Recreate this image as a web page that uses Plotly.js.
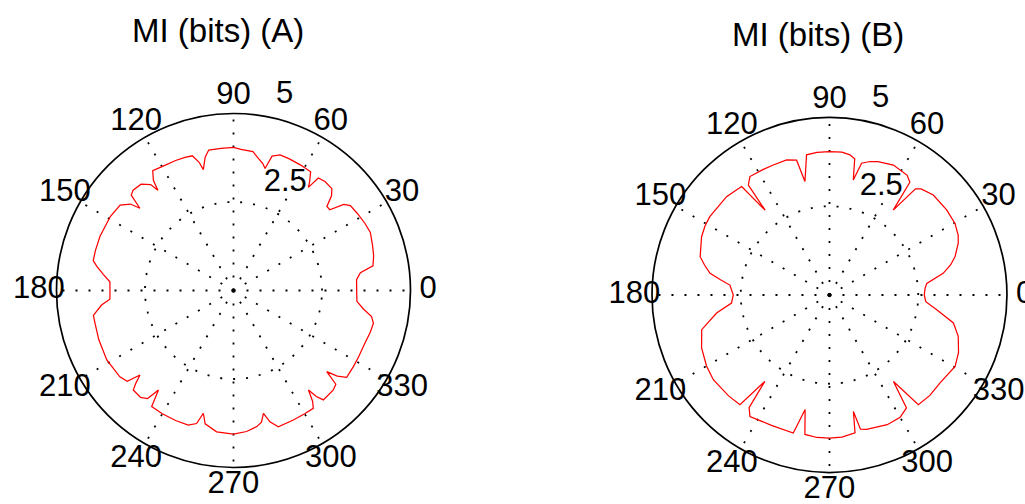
<!DOCTYPE html>
<html>
<head>
<meta charset="utf-8">
<script src="https://cdn.plot.ly/plotly-3.0.1.min.js"></script>
<style>
  html, body { margin: 0; padding: 0; background: #ffffff; }
  #chart { width: 1025px; height: 504px; }
</style>
</head>
<body>
<div id="chart"></div>
<script>
// Angle tick values and labels (degrees)
const angleTicks = [0, 30, 60, 90, 120, 150, 180, 210, 240, 270, 300, 330];
const angleLabels = ["0", "30", "60", "90", "120", "150", "180", "210", "240", "270", "300", "330"];
// Radial tick values and labels
const radialTicks = [2.5, 5];
const radialLabels = ["2.5", "5"];

// Panel titles
const titleA = "MI (bits) (A)";
const titleB = "MI (bits) (B)";

// Panel A: mutual information (bits) versus direction (deg)
const thetaA = [0, 5, 8, 10, 14, 18, 23, 27, 32, 36, 38, 40, 42, 44, 46, 50, 53, 54, 55, 57, 62, 67, 71, 74, 75.5, 77, 79, 82, 87, 90,
  95, 100, 102, 104, 105, 107, 110, 114, 120, 124, 126, 127, 128, 131, 135, 137, 138.7, 140, 143, 149, 158, 164, 168, 170, 173, 176, 180,
  184, 186.3, 190.1, 193.3, 200, 208.7, 217.2, 220.5, 222.1, 223.5, 224.8, 229, 231.5, 233, 234.8, 240, 246, 251.4, 254.5, 256.2, 258, 263.2, 270,
  275.3, 279.7, 282, 283.7, 285.5, 288.2, 294.8, 300, 304.1, 305.5, 307, 308, 309.4, 315.1, 317.5, 319, 320.5, 322.5, 327.6, 332, 338.1, 343, 346.8, 349.3, 352, 355, 360];
const rA = [3.48, 3.49, 3.62, 4.00, 4.08, 4.13, 4.20, 4.17, 4.12, 4.08, 3.95, 3.55, 3.55, 3.85, 4.00, 4.02, 3.98, 3.60, 3.75, 4.00, 4.02, 4.04, 4.05, 3.95, 3.56, 3.68, 3.78, 3.96, 3.99, 4.04,
  4.03, 4.03, 3.85, 3.52, 3.75, 3.98, 4.00, 4.02, 4.04, 4.08, 3.85, 3.55, 3.80, 3.98, 4.01, 3.95, 3.52, 3.80, 4.01, 4.06, 4.07, 4.06, 4.05, 3.92, 3.70, 3.50, 3.49,
  3.50, 3.75, 4.02, 4.02, 4.05, 4.08, 4.03, 3.95, 3.56, 3.80, 3.99, 4.00, 3.90, 3.52, 4.01, 4.02, 4.02, 4.01, 3.90, 3.57, 3.85, 4.02, 4.06,
  4.00, 3.90, 3.80, 3.57, 3.85, 4.05, 4.03, 4.02, 4.02, 3.85, 3.52, 3.80, 4.00, 3.98, 3.92, 3.49, 3.80, 4.03, 4.01, 4.00, 4.00, 4.04, 4.06, 3.97, 3.70, 3.50, 3.48];

// Panel B: mutual information (bits) versus direction (deg)
const thetaB = [0, 4, 6.8, 10.8, 14, 17, 21.9, 25, 29.7, 36, 43.9, 49.2, 51, 53.1, 54.5, 57, 63.8, 70, 73.1, 76.3, 78.3, 79.5, 81.7, 85, 90,
  95, 99.3, 102.2, 103.7, 107.6, 113.4, 118, 123.9, 126.4, 127.2, 129, 131, 136.3, 146.8, 151, 155.5, 163.5, 166.5, 169.7, 172, 174.3, 180,
  184.7, 189.1, 195.2, 202.5, 210, 216.1, 225, 230.8, 233.2, 234.5, 236.8, 246, 255.3, 258, 260, 265, 270,
  275, 280.5, 281.6, 283, 285.4, 294, 300, 304.3, 306.5, 309, 315, 321.5, 330.4, 336, 342.2, 347.3, 352.2, 356, 360];
const rB = [2.67, 2.70, 2.76, 3.26, 3.52, 3.70, 3.91, 4.00, 4.07, 4.08, 4.06, 3.95, 3.85, 2.99, 3.90, 4.02, 4.08, 4.00, 3.93, 3.82, 3.31, 3.90, 3.99, 4.04, 4.04,
  4.03, 4.00, 3.27, 3.91, 3.99, 3.99, 4.00, 4.02, 3.85, 3.00, 3.93, 3.95, 4.01, 4.03, 4.01, 3.96, 3.80, 3.62, 3.42, 3.10, 2.82, 2.71,
  2.77, 3.22, 3.73, 3.90, 4.00, 4.05, 4.02, 3.99, 3.04, 3.90, 4.09, 4.02, 4.02, 3.30, 3.99, 4.03, 4.03,
  4.02, 3.95, 3.35, 3.88, 3.93, 4.00, 3.98, 3.85, 3.03, 3.98, 4.00, 3.98, 4.07, 3.98, 3.81, 3.58, 3.05, 2.72, 2.67];

const FONT = "Liberation Sans, Arial, sans-serif";
const gridDash = "2px,11px";
const rMax = radialTicks[radialTicks.length - 1];
const rInc = radialTicks[0];
const labelAngleRadial = 82;      // radial labels sit along the 82 degree line (MATLAB polar style)
const labelRange = rMax * 1.101;  // label layer extends a bit beyond rmax, same scale

const domainA = { x: [0.0551, 0.4005], y: [0.0724, 0.7748] };
const domainB = { x: [0.6361, 0.9824], y: [0.0625, 0.7669] };

function scaledDomain(d, f) {
  const cx = (d.x[0] + d.x[1]) / 2, cy = (d.y[0] + d.y[1]) / 2;
  const hx = (d.x[1] - d.x[0]) / 2 * f, hy = (d.y[1] - d.y[0]) / 2 * f;
  const c = v => Math.max(0, Math.min(1, v));
  return { x: [c(cx - hx), c(cx + hx)], y: [c(cy - hy), c(cy + hy)] };
}

function mainPolar(domain) {
  return {
    domain: domain,
    bgcolor: "#ffffff",
    angularaxis: {
      rotation: 0, direction: "counterclockwise",
      tickmode: "array", tickvals: angleTicks, ticks: "", showticklabels: false,
      showline: true, linecolor: "#000000", linewidth: 1.7,
      showgrid: true, gridcolor: "#000000", gridwidth: 1.8, griddash: gridDash
    },
    radialaxis: {
      range: [0, rMax], tickmode: "array", tickvals: radialTicks, showticklabels: false,
      angle: labelAngleRadial, showline: false, ticks: "",
      showgrid: true, gridcolor: "#000000", gridwidth: 1.8, griddash: gridDash
    }
  };
}
function labelPolar(domain) {
  return {
    domain: scaledDomain(domain, labelRange / rMax),
    bgcolor: "rgba(0,0,0,0)",
    angularaxis: { rotation: 0, direction: "counterclockwise", showline: false, showgrid: false, showticklabels: false, ticks: "" },
    radialaxis: { range: [0, labelRange], showline: false, showgrid: false, showticklabels: false, ticks: "" }
  };
}

function panelTraces(theta, r, subplot, labelSubplot) {
  return [
    { type: "scatterpolar", mode: "lines", theta: theta, r: r, subplot: subplot,
      line: { color: "#ff0000", width: 1.25 }, hoverinfo: "skip" },
    // angle labels at 1.1 * rmax, centred (as MATLAB polar does)
    { type: "scatterpolar", mode: "text", subplot: labelSubplot, cliponaxis: false,
      theta: angleTicks, r: angleTicks.map(() => rMax * 1.1), text: angleLabels,
      textposition: "middle center", textfont: { family: FONT, size: 31, color: "#000000" }, hoverinfo: "skip" },
    // radial labels along 82 degrees, left / bottom aligned
    { type: "scatterpolar", mode: "text", subplot: labelSubplot, cliponaxis: false,
      theta: radialTicks.map(() => labelAngleRadial), r: radialTicks.map(v => v + rInc / 20),
      text: radialLabels.map(s => "\u00a0\u00a0" + s),
      textposition: "top right", textfont: { family: FONT, size: 31, color: "#000000" }, hoverinfo: "skip" }
  ];
}

const traces = [].concat(
  panelTraces(thetaA, rA, "polar", "polar3"),
  panelTraces(thetaB, rB, "polar2", "polar4")
);

const layout = {
  width: 1025,
  height: 504,
  margin: { l: 0, r: 0, t: 0, b: 0 },
  paper_bgcolor: "#ffffff",
  showlegend: false,
  font: { family: FONT, color: "#000000" },
  polar: mainPolar(domainA),
  polar2: mainPolar(domainB),
  polar3: labelPolar(domainA),
  polar4: labelPolar(domainB),
  annotations: [
    { text: titleA, xref: "paper", yref: "paper", x: 0.2122, y: 0.9385, xanchor: "center", yanchor: "middle",
      showarrow: false, font: { family: FONT, size: 33, color: "#000000" } },
    { text: titleB, xref: "paper", yref: "paper", x: 0.798, y: 0.9306, xanchor: "center", yanchor: "middle",
      showarrow: false, font: { family: FONT, size: 33, color: "#000000" } }
  ]
};

Plotly.newPlot("chart", traces, layout, { staticPlot: true, displayModeBar: false });
</script>
</body>
</html>
